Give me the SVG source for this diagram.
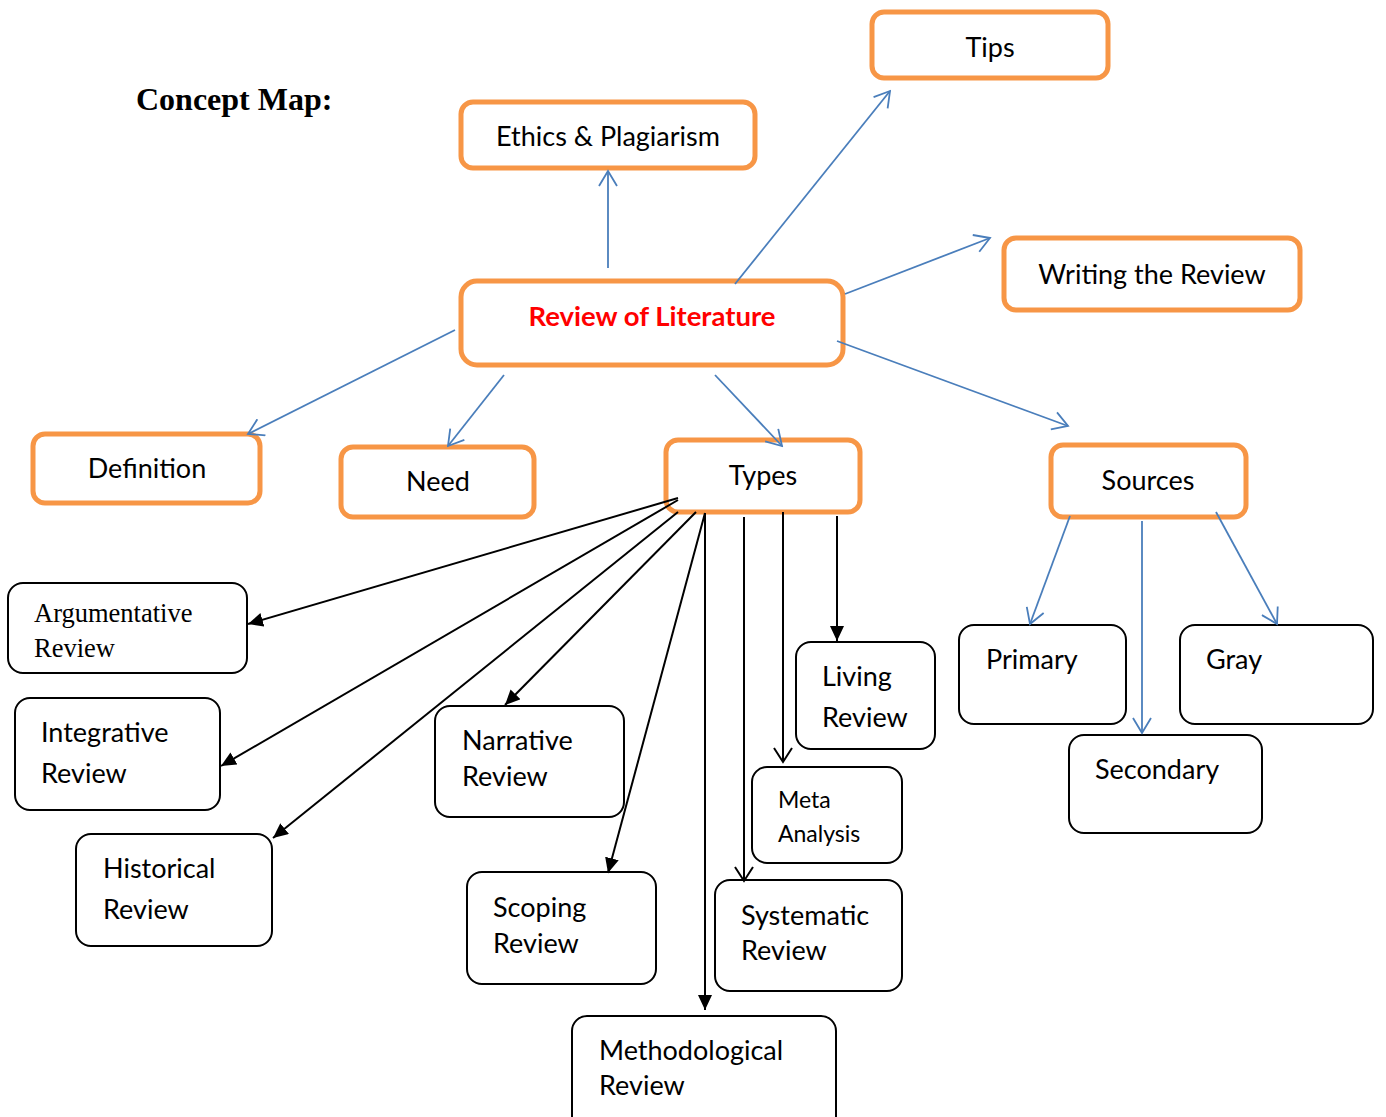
<svg xmlns="http://www.w3.org/2000/svg" width="1386" height="1117" viewBox="0 0 1386 1117">
<style>
.bg{fill:#ffffff}
.ob{fill:#ffffff;stroke:#F79646;stroke-width:5}
.kb{fill:#ffffff;stroke:#000000;stroke-width:2}
.t{font-family:Lato,"Liberation Sans",sans-serif;font-size:27px;fill:#000000}
.tc{text-anchor:middle}
.ts{font-family:"Liberation Serif","Times New Roman",serif;font-size:26.5px;fill:#000000}
.tm{font-family:Lato,"Liberation Sans",sans-serif;font-size:23px;fill:#000000}
.title{font-family:"Liberation Serif","Times New Roman",serif;font-size:32px;font-weight:bold;fill:#000000}
.main{font-family:Lato,"Liberation Sans",sans-serif;font-size:27.5px;font-weight:bold;fill:#FF0000;text-anchor:middle}
.bl{fill:none;stroke:#4A7EBB;stroke-width:1.8}
.bk{fill:none;stroke:#000000;stroke-width:2}
</style>
<defs>
<marker id="ab" markerUnits="userSpaceOnUse" markerWidth="18" markerHeight="20" refX="16" refY="10" orient="auto" viewBox="0 0 18 20">
<path d="M1,1 L16,10 L1,19" fill="none" stroke="#4A7EBB" stroke-width="1.8"/>
</marker>
<marker id="af" markerUnits="userSpaceOnUse" markerWidth="16" markerHeight="14" refX="15" refY="7" orient="auto" viewBox="0 0 16 14">
<path d="M0,0 L15,7 L0,14 z" fill="#000000"/>
</marker>
<marker id="ao" markerUnits="userSpaceOnUse" markerWidth="17" markerHeight="20" refX="15" refY="10" orient="auto" viewBox="0 0 17 20">
<path d="M1,1 L15,10 L1,19" fill="none" stroke="#000000" stroke-width="2"/>
</marker>
</defs>
<rect class="bg" x="0" y="0" width="1386" height="1117"/>
<text class="title" x="136" y="110">Concept Map:</text>

<g id="tips"><rect class="ob" x="872" y="12" width="236" height="66" rx="12"/><text class="t tc" x="990" y="57">Tips</text></g>
<g id="ethics"><rect class="ob" x="461" y="102" width="294" height="66" rx="12"/><text class="t tc" x="608" y="146">Ethics &amp; Plagiarism</text></g>
<g id="review-of-literature"><rect class="ob" x="461" y="281" width="382" height="84" rx="16"/><text class="main" x="652" y="326">Review of Literature</text></g>
<g id="writing"><rect class="ob" x="1004" y="238" width="296" height="72" rx="12"/><text class="t tc" x="1152" y="284">Writing the Review</text></g>
<g id="definition"><rect class="ob" x="33" y="434" width="227" height="69" rx="12"/><text class="t tc" x="147" y="478">Definition</text></g>
<g id="need"><rect class="ob" x="341" y="447" width="193" height="70" rx="12"/><text class="t tc" x="438" y="491">Need</text></g>
<g id="types"><rect class="ob" x="666" y="440" width="194" height="72" rx="12"/><text class="t tc" x="763" y="485">Types</text></g>
<g id="sources"><rect class="ob" x="1051" y="445" width="195" height="72" rx="12"/><text class="t tc" x="1148" y="490">Sources</text></g>

<g id="argumentative"><rect class="kb" x="8" y="583" width="239" height="90" rx="15"/><text class="ts" x="34" y="622">Argumentative</text><text class="ts" x="34" y="657">Review</text></g>
<g id="integrative"><rect class="kb" x="15" y="698" width="205" height="112" rx="15"/><text class="t" x="41" y="742">Integrative</text><text class="t" x="41" y="783">Review</text></g>
<g id="historical"><rect class="kb" x="76" y="834" width="196" height="112" rx="15"/><text class="t" x="103" y="878">Historical</text><text class="t" x="103" y="919">Review</text></g>
<g id="narrative"><rect class="kb" x="435" y="706" width="189" height="111" rx="15"/><text class="t" x="462" y="750">Narrative</text><text class="t" x="462" y="786">Review</text></g>
<g id="scoping"><rect class="kb" x="467" y="872" width="189" height="112" rx="15"/><text class="t" x="493" y="917">Scoping</text><text class="t" x="493" y="953">Review</text></g>
<g id="methodological"><rect class="kb" x="572" y="1016" width="264" height="115" rx="15"/><text class="t" x="599" y="1060">Methodological</text><text class="t" x="599" y="1095">Review</text></g>
<g id="living"><rect class="kb" x="796" y="642" width="139" height="107" rx="15"/><text class="t" x="822" y="686">Living</text><text class="t" x="822" y="727">Review</text></g>
<g id="meta"><rect class="kb" x="752" y="767" width="150" height="96" rx="15"/><text class="tm" x="778" y="808">Meta</text><text class="tm" x="778" y="842">Analysis</text></g>
<g id="systematic"><rect class="kb" x="715" y="880" width="187" height="111" rx="15"/><text class="t" x="741" y="925">Systematic</text><text class="t" x="741" y="960">Review</text></g>
<g id="primary"><rect class="kb" x="959" y="625" width="167" height="99" rx="15"/><text class="t" x="986" y="669">Primary</text></g>
<g id="gray"><rect class="kb" x="1180" y="625" width="193" height="99" rx="15"/><text class="t" x="1206" y="669">Gray</text></g>
<g id="secondary"><rect class="kb" x="1069" y="735" width="193" height="98" rx="15"/><text class="t" x="1095" y="779">Secondary</text></g>

<g id="connectors">
<line class="bl" x1="608" y1="268" x2="608" y2="171" marker-end="url(#ab)"/>
<line class="bl" x1="735" y1="284" x2="890" y2="91" marker-end="url(#ab)"/>
<line class="bl" x1="845" y1="294" x2="990" y2="238" marker-end="url(#ab)"/>
<line class="bl" x1="837" y1="341" x2="1068" y2="426" marker-end="url(#ab)"/>
<line class="bl" x1="715" y1="375" x2="782" y2="446" marker-end="url(#ab)"/>
<line class="bl" x1="504" y1="375" x2="448" y2="446" marker-end="url(#ab)"/>
<line class="bl" x1="455" y1="330" x2="248" y2="434" marker-end="url(#ab)"/>
<line class="bl" x1="1070" y1="516" x2="1030" y2="624" marker-end="url(#ab)"/>
<line class="bl" x1="1142" y1="521" x2="1142" y2="733" marker-end="url(#ab)"/>
<line class="bl" x1="1216" y1="512" x2="1277" y2="624" marker-end="url(#ab)"/>
<line class="bk" x1="678" y1="498" x2="248" y2="624" marker-end="url(#af)"/>
<line class="bk" x1="678" y1="500" x2="221" y2="766" marker-end="url(#af)"/>
<line class="bk" x1="678" y1="512" x2="273" y2="838" marker-end="url(#af)"/>
<line class="bk" x1="696" y1="512" x2="505" y2="705" marker-end="url(#af)"/>
<line class="bk" x1="705" y1="513" x2="608" y2="873" marker-end="url(#af)"/>
<line class="bk" x1="705" y1="513" x2="705" y2="1010" marker-end="url(#af)"/>
<line class="bk" x1="744" y1="517" x2="744" y2="881" marker-end="url(#ao)"/>
<line class="bk" x1="783" y1="512" x2="783" y2="762" marker-end="url(#ao)"/>
<line class="bk" x1="837" y1="516" x2="837" y2="641" marker-end="url(#af)"/>
</g>
</svg>
